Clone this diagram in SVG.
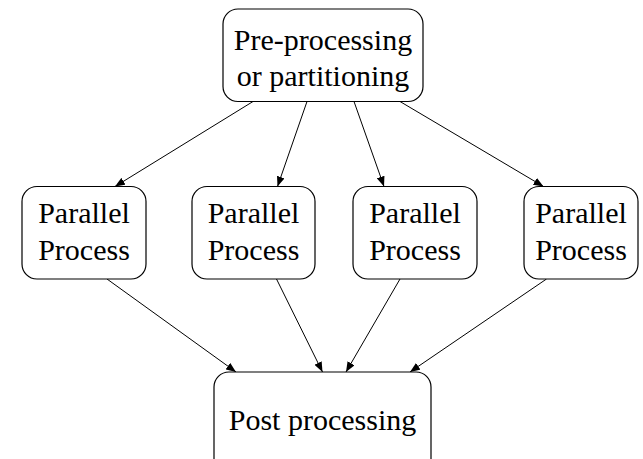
<svg xmlns="http://www.w3.org/2000/svg" width="643" height="459" viewBox="0 0 643 459">
  <style>
    .box { fill: #ffffff; stroke: #000000; stroke-width: 1.2; }
    .lbl { font-family: "Times New Roman", Times, "Liberation Serif", Tinos, "Nimbus Roman", "Nimbus Roman No9 L", FreeSerif, "Noto Serif", "DejaVu Serif", serif; font-size: 30px; fill: #000000; text-anchor: middle; }
    .edge { stroke: #000000; stroke-width: 1; fill: none; marker-end: url(#arrow); }
  </style>
  <defs>
    <marker id="arrow" viewBox="0 0 10 8" refX="10" refY="4" markerWidth="10" markerHeight="8" markerUnits="userSpaceOnUse" orient="auto">
      <path d="M0,0 L10,4 L0,8 Z" fill="#000000"/>
    </marker>
  </defs>
  <rect width="643" height="459" fill="#ffffff"/>

  <g id="connectors">
    <line class="edge" x1="253" y1="101.5" x2="115" y2="186.5"/>
    <line class="edge" x1="307" y1="101.5" x2="277.5" y2="186.5"/>
    <line class="edge" x1="354" y1="101.5" x2="384" y2="186.5"/>
    <line class="edge" x1="400" y1="101.5" x2="543.5" y2="186.5"/>
    <line class="edge" x1="107" y1="279" x2="236" y2="372"/>
    <line class="edge" x1="276.5" y1="279" x2="322.5" y2="372"/>
    <line class="edge" x1="400" y1="279" x2="346" y2="372"/>
    <line class="edge" x1="546.5" y1="279" x2="410" y2="372"/>
  </g>

  <g id="pre">
    <rect class="box" x="223" y="9" width="200" height="92.5" rx="15"/>
    <text class="lbl" x="323" y="50">Pre-processing</text>
    <text class="lbl" x="323" y="86">or partitioning</text>
  </g>

  <g id="par1">
    <rect class="box" x="22" y="186.5" width="124" height="92.5" rx="15"/>
    <text class="lbl" x="84" y="223">Parallel</text>
    <text class="lbl" x="84" y="260">Process</text>
  </g>

  <g id="par2">
    <rect class="box" x="192" y="186.5" width="123" height="92.5" rx="15"/>
    <text class="lbl" x="253.5" y="223">Parallel</text>
    <text class="lbl" x="253.5" y="260">Process</text>
  </g>

  <g id="par3">
    <rect class="box" x="353" y="186.5" width="124" height="92.5" rx="15"/>
    <text class="lbl" x="415" y="223">Parallel</text>
    <text class="lbl" x="415" y="260">Process</text>
  </g>

  <g id="par4">
    <rect class="box" x="524" y="186.5" width="114" height="92.5" rx="15"/>
    <text class="lbl" x="581" y="223">Parallel</text>
    <text class="lbl" x="581" y="260">Process</text>
  </g>

  <g id="post">
    <rect class="box" x="214" y="372" width="217" height="110" rx="15"/>
    <text class="lbl" x="322.5" y="430">Post processing</text>
  </g>
</svg>
